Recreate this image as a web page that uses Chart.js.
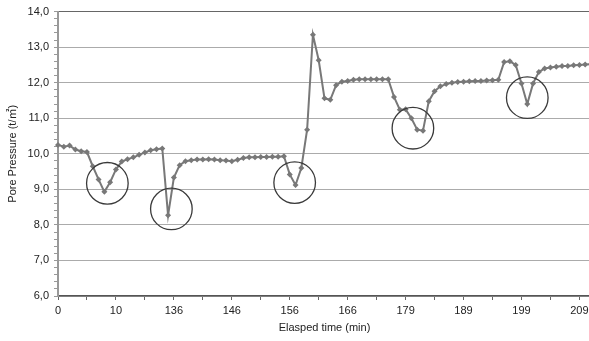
<!DOCTYPE html>
<html>
<head>
<meta charset="utf-8">
<script src="https://cdn.jsdelivr.net/npm/chart.js@4/dist/chart.umd.min.js"></script>
<style>
html,body{margin:0;padding:0;background:#fff;overflow:hidden;}
#wrap{width:589px;height:341px;overflow:hidden;}
canvas{display:block;}
</style>
</head>
<body>
<div id="wrap"><canvas id="c" width="595" height="341"></canvas></div>
<script>
// Tick labels shown every 10 readings on the elapsed-time axis
const timeTickLabels = ['0','10','136','146','156','166','179','189','199','209'];

// Pore pressure readings (t/㎡), one per reading
const porePressure = [
  10.25,10.20,10.23,10.12,10.07,10.05,9.65,9.28,8.93,9.20,
  9.56,9.78,9.85,9.90,9.97,10.04,10.10,10.13,10.15,8.27,
  9.33,9.68,9.79,9.82,9.84,9.84,9.85,9.84,9.82,9.81,
  9.79,9.83,9.88,9.90,9.90,9.91,9.91,9.92,9.92,9.93,
  9.42,9.12,9.60,10.68,13.35,12.63,11.56,11.52,11.93,12.03,
  12.05,12.08,12.10,12.10,12.10,12.10,12.10,12.10,11.60,11.24,
  11.25,11.00,10.68,10.65,11.48,11.76,11.90,11.96,12.00,12.02,
  12.03,12.04,12.05,12.05,12.06,12.07,12.08,12.58,12.60,12.50,
  11.98,11.40,11.98,12.30,12.40,12.43,12.45,12.47,12.47,12.49,
  12.50,12.51,12.52
];

// Highlight circles: centre position (reading index) and pressure
const circleIndex = [8.52, 19.57, 40.85, 61.26, 81.0];
const circleValue = [9.17, 8.45, 9.19, 10.72, 11.58];

const categories = porePressure.map((_, i) => (i % 10 === 0 && timeTickLabels[i / 10] !== undefined) ? timeTickLabels[i / 10] : '');

const FONT = "'Liberation Sans', Arial, 'Noto Sans CJK KR', sans-serif";

const circlePlugin = {
  id: 'circles',
  afterDatasetsDraw(chart) {
    const ctx = chart.ctx, xs = chart.scales.x, ys = chart.scales.y;
    ctx.save();
    ctx.strokeStyle = '#3a3a3a';
    ctx.lineWidth = 1.3;
    for (let k = 0; k < circleIndex.length; k++) {
      const cx = xs.getPixelForValue(circleIndex[k]);
      const cy = ys.getPixelForValue(circleValue[k]);
      ctx.beginPath();
      ctx.arc(cx, cy, 20.8, 0, Math.PI * 2);
      ctx.stroke();
    }
    ctx.restore();
  }
};

new Chart(document.getElementById('c'), {
  type: 'line',
  data: {
    labels: categories,
    datasets: [{
      data: porePressure,
      borderColor: '#787878',
      backgroundColor: '#787878',
      borderWidth: 2,
      pointStyle: 'rectRot',
      pointRadius: 3,
      pointBorderWidth: 0,
      pointBackgroundColor: '#787878',
      tension: 0,
      clip: false
    }]
  },
  options: {
    responsive: false,
    animation: false,
    events: [],
    layout: { padding: { top: 9, right: 0, left: 0, bottom: 0 } },
    plugins: { legend: { display: false }, tooltip: { enabled: false } },
    scales: {
      x: {
        type: 'category',
        offset: false,
        afterFit(s) { s.height = 45; },
        border: { display: true, color: '#555', width: 1.5 },
        grid: {
          drawOnChartArea: false,
          drawTicks: true,
          tickLength: 4,
          tickWidth: 1,
          tickColor: (c) => (c.index % 5 === 0 ? '#666' : 'rgba(0,0,0,0)')
        },
        ticks: {
          autoSkip: false,
          maxRotation: 0,
          minRotation: 0,
          padding: 4,
          color: '#222',
          font: { family: FONT, size: 11 },
          callback: (v, i) => categories[i]
        },
        title: {
          display: true,
          text: 'Elasped time (min)',
          color: '#222',
          font: { family: FONT, size: 11 },
          padding: { top: 4, bottom: 6 }
        }
      },
      y: {
        type: 'linear',
        min: 6,
        max: 14,
        afterFit(s) { s.width = 58; },
        border: { display: true, color: '#999', width: 2 },
        grid: {
          drawOnChartArea: true,
          drawTicks: true,
          tickLength: 4,
          lineWidth: 1,
          color: (c) => {
            const v = c.tick ? c.tick.value : 0;
            if (Math.abs(v - Math.round(v)) > 1e-6) return 'rgba(0,0,0,0)';
            if (Math.round(v) === 14) return '#666';
            return '#ababab';
          },
          tickColor: '#999'
        },
        ticks: {
          stepSize: 0.2,
          autoSkip: false,
          padding: 5,
          color: '#222',
          font: { family: FONT, size: 11 },
          callback: (v) => (Math.abs(v - Math.round(v)) < 1e-6 ? Math.round(v).toFixed(1).replace('.', ',') : '')
        },
        title: {
          display: true,
          text: 'Pore Pressure (t/㎡)',
          color: '#222',
          font: { family: FONT, size: 11 },
          padding: { top: 6, bottom: 0 }
        }
      }
    }
  },
  plugins: [circlePlugin]
});
</script>
</body>
</html>
